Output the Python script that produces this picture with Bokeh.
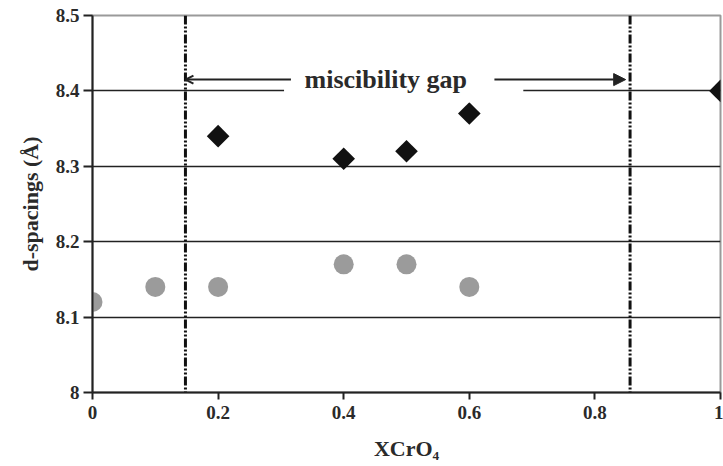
import math
from bokeh.plotting import figure
from bokeh.models import (FixedTicker, BoxAnnotation, Arrow, NormalHead, OpenHead,
                          Label, Range1d, Span)
from bokeh.embed import file_html
from bokeh.resources import INLINE

# data
x_circle = [0.0, 0.1, 0.2, 0.4, 0.5, 0.6]
y_circle = [8.12, 8.14, 8.14, 8.17, 8.17, 8.14]
x_diamond = [0.2, 0.4, 0.5, 0.6, 1.0]
y_diamond = [8.34, 8.31, 8.32, 8.37, 8.40]
gap_bounds = [0.148, 0.856]
x_ticks = [0, 0.2, 0.4, 0.6, 0.8, 1.0]
x_tick_labels = ["0", "0.2", "0.4", "0.6", "0.8", "1"]
y_ticks = [8.0, 8.1, 8.2, 8.3, 8.4, 8.5]
y_tick_labels = ["8", "8.1", "8.2", "8.3", "8.4", "8.5"]

FONT = "Liberation Serif"

p = figure(width=723, height=466, output_backend="svg", toolbar_location=None,
           x_range=Range1d(0, 1), y_range=Range1d(8, 8.5),
           min_border_left=92, min_border_top=15, min_border_right=3, min_border_bottom=74,
           frame_width=628, frame_height=377)
p.background_fill_color = "white"
p.border_fill_color = "white"
p.outline_line_color = "#9a9a9a"
p.outline_line_width = 2

p.xaxis.ticker = FixedTicker(ticks=x_ticks)
p.yaxis.ticker = FixedTicker(ticks=y_ticks)
p.xaxis.major_label_overrides = {t: l for t, l in zip(x_ticks, x_tick_labels)}
p.yaxis.major_label_overrides = {t: l for t, l in zip(y_ticks, y_tick_labels)}
for ax in (p.xaxis, p.yaxis):
    ax.axis_line_color = "#222222"
    ax.axis_line_width = 2
    ax.major_tick_line_color = "#222222"
    ax.major_tick_line_width = 2
    ax.major_tick_in = 0
    ax.minor_tick_line_color = None
    ax.major_label_text_font = FONT
    ax.major_label_text_font_style = "bold"
    ax.major_label_text_font_size = "19px"
    ax.major_label_text_color = "#2a2a2a"
    ax.axis_label_text_font = FONT
    ax.axis_label_text_font_style = "bold"
    ax.axis_label_text_font_size = "22px"
    ax.axis_label_text_color = "#2a2a2a"
p.yaxis.major_tick_out = 9
p.xaxis.major_tick_out = 7
p.yaxis.major_label_standoff = 4
p.xaxis.major_label_standoff = 6
p.xaxis.axis_label = "XCrO\u2084"
p.yaxis.axis_label = "d-spacings (\u00c5)"
p.xaxis.axis_label_standoff = 14
p.yaxis.axis_label_standoff = 10

p.xgrid.grid_line_color = None
p.ygrid.ticker = FixedTicker(ticks=y_ticks[1:-1])
p.ygrid.grid_line_color = "#222222"
p.ygrid.grid_line_width = 1.5

# white box behind the label that interrupts the 8.4 grid line
p.add_layout(BoxAnnotation(left=0.305, right=0.686, bottom=8.385, top=8.445,
                           fill_color="white", fill_alpha=1, line_color=None))

for gx in gap_bounds:
    p.add_layout(Span(location=gx, dimension="height", line_color="#111111",
                      line_width=3, line_dash="9 2 2 2 2 2"))

p.scatter(x_circle, y_circle, marker="circle", size=20, fill_color="#9b9b9b",
          line_color=None)
p.scatter(x_diamond, y_diamond, marker="square", angle=math.pi / 4, size=16,
          fill_color="#111111", line_color=None)

p.add_layout(Arrow(x_start=0.316, y_start=8.415, x_end=gap_bounds[0], y_end=8.415,
                   line_color="#222222", line_width=2,
                   end=OpenHead(size=8, line_color="#222222", line_width=2)))
p.add_layout(Arrow(x_start=0.640, y_start=8.415, x_end=gap_bounds[1] - 0.007, y_end=8.415,
                   line_color="#222222", line_width=2,
                   end=NormalHead(size=12, fill_color="#222222", line_color="#222222")))
p.add_layout(Label(x=0.467, y=8.415, text="miscibility gap", text_font=FONT,
                   text_font_style="bold", text_font_size="26px", text_color="#2a2a2a",
                   text_align="center", text_baseline="middle"))

open("out.html", "w").write(file_html(p, INLINE))
